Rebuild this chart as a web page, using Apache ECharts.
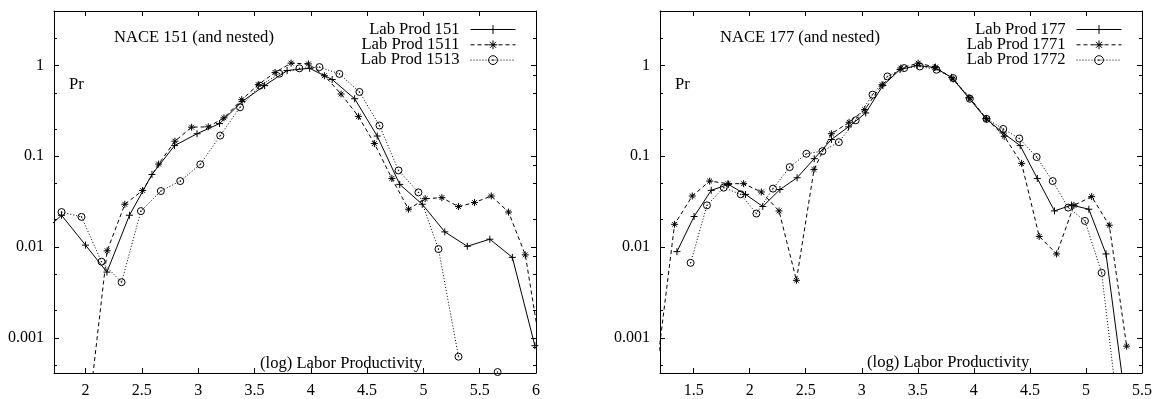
<!DOCTYPE html>
<html>
<head>
<meta charset="utf-8">
<script src="https://cdn.jsdelivr.net/npm/echarts@6/dist/echarts.min.js"></script>
<style>
  html, body { margin: 0; background: #fff; }
  #chart { width: 1156px; height: 399px; }
</style>
</head>
<body>
<div id="chart"></div>
<script>
// NACE 151 panel
const lab151X = [1.59, 1.787, 2.0, 2.19, 2.39, 2.59, 2.79, 2.99, 3.19, 3.39, 3.59, 3.79, 3.99, 4.19, 4.39, 4.59, 4.79, 4.99, 5.19, 5.39, 5.59, 5.79, 5.99];
const lab151Y = [0.0135, 0.0224, 0.0105, 0.0053, 0.0224, 0.063, 0.131, 0.177, 0.229, 0.40, 0.60, 0.88, 0.93, 0.70, 0.43, 0.167, 0.049, 0.0296, 0.0147, 0.0102, 0.0122, 0.0077, 0.00082];
const lab1511X = [2.044, 2.192, 2.349, 2.507, 2.649, 2.794, 2.942, 3.09, 3.229, 3.387, 3.534, 3.683, 3.825, 3.979, 4.121, 4.269, 4.423, 4.565, 4.72, 4.868, 5.016, 5.164, 5.312, 5.454, 5.603, 5.756, 5.905, 6.05];
const lab1511Y = [0.00023, 0.0091, 0.0296, 0.042, 0.082, 0.1465, 0.209, 0.211, 0.265, 0.42, 0.614, 0.838, 1.06, 1.04, 0.771, 0.485, 0.275, 0.138, 0.057, 0.0261, 0.0341, 0.035, 0.0279, 0.0309, 0.0365, 0.0243, 0.0082, 0.00064];
const lab1513X = [1.787, 1.964, 2.142, 2.32, 2.492, 2.669, 2.841, 3.019, 3.196, 3.372, 3.549, 3.721, 3.899, 4.077, 4.254, 4.432, 4.61, 4.779, 4.956, 5.134, 5.312, 5.486, 5.659];
const lab1513Y = [0.0243, 0.0215, 0.0069, 0.0041, 0.0249, 0.0414, 0.0533, 0.0813, 0.169, 0.346, 0.599, 0.811, 0.93, 0.96, 0.807, 0.511, 0.218, 0.0698, 0.04, 0.0095, 0.00062, null, 0.00042];

// NACE 177 panel
const lab177X = [1.351, 1.504, 1.657, 1.81, 1.963, 2.117, 2.27, 2.423, 2.576, 2.729, 2.882, 3.035, 3.188, 3.341, 3.494, 3.648, 3.801, 3.954, 4.107, 4.26, 4.413, 4.566, 4.719, 4.872, 5.026, 5.179, 5.332];
const lab177Y = [0.0089, 0.0217, 0.0421, 0.049, 0.038, 0.028, 0.043, 0.058, 0.094, 0.153, 0.211, 0.30, 0.60, 0.90, 1.0, 0.95, 0.74, 0.44, 0.26, 0.181, 0.131, 0.057, 0.025, 0.029, 0.0261, 0.0084, 0.00031];
const lab1771X = [1.175, 1.33, 1.488, 1.643, 1.806, 1.946, 2.104, 2.262, 2.417, 2.574, 2.729, 2.887, 3.027, 3.181, 3.348, 3.503, 3.658, 3.815, 3.964, 4.113, 4.271, 4.426, 4.583, 4.738, 4.893, 5.051, 5.208, 5.363];
const lab1771Y = [0.0005, 0.0178, 0.0365, 0.0533, 0.0499, 0.0499, 0.0404, 0.025, 0.0043, 0.0716, 0.177, 0.237, 0.327, 0.614, 0.936, 1.06, 0.96, 0.71, 0.44, 0.258, 0.166, 0.0834, 0.0131, 0.0084, 0.0288, 0.0359, 0.0174, 0.00081];
const lab1772X = [1.473, 1.619, 1.768, 1.92, 2.06, 2.208, 2.357, 2.506, 2.649, 2.795, 2.946, 3.096, 3.229, 3.378, 3.518, 3.667, 3.815, 3.964, 4.113, 4.262, 4.405, 4.56, 4.703, 4.842, 4.991, 5.14, 5.29];
const lab1772Y = [0.0067, 0.0288, 0.0451, 0.0381, 0.0234, 0.044, 0.0759, 0.1065, 0.1138, 0.143, 0.249, 0.477, 0.757, 0.936, 0.975, 0.897, 0.727, 0.43, 0.258, 0.2, 0.157, 0.098, 0.0533, 0.0272, 0.0194, 0.0052, 0.00014];

// ticks
const xTicksLeft = [2, 2.5, 3, 3.5, 4, 4.5, 5, 5.5, 6];
const xTicksRight = [1.5, 2, 2.5, 3, 3.5, 4, 4.5, 5, 5.5];
const yMajor = [0.001, 0.01, 0.1, 1];
const yMinor = [0.0005, 0.002, 0.005, 0.02, 0.05, 0.2, 0.5, 2];
const yMinorRight = [0.0005, 0.00079, 0.002, 0.005, 0.0079, 0.02, 0.05, 0.079, 0.2, 0.5, 0.79, 2];

const FONT = 'Liberation Serif';
const PLUS = 'path://M5,0L5,10M0,5L10,5';
const STAR = 'path://M5,0L5,10M0,5L10,5M1.6,1.6L8.4,8.4M8.4,1.6L1.6,8.4';
const RING = 'path://M10,5A5,5 0 1 1 0,5A5,5 0 1 1 10,5ZM5.5,5A0.5,0.5 0 1 1 4.5,5A0.5,0.5 0 1 1 5.5,5Z';

const chart = echarts.init(document.getElementById('chart'));

function xAx(grid, min, max, ticks, pos) {
    const bottom = pos === 'bottom';
    return {
        type: 'value', gridIndex: grid, position: pos, min: min, max: max,
        axisLine: { show: true, onZero: false, lineStyle: { color: '#000', width: 1 } },
        axisTick: { show: true, inside: true, length: 5, customValues: ticks, lineStyle: { color: '#000' } },
        axisLabel: {
            show: bottom, customValues: ticks, margin: 10,
            color: '#000', fontFamily: FONT, fontSize: 16,
            formatter: v => String(v)
        },
        splitLine: { show: false }
    };
}

function yAx(grid, pos, ticks, len, line, labels) {
    return {
        type: 'log', logBase: 10, gridIndex: grid, position: pos, min: 0.00041, max: 3.98,
        axisLine: { show: line, onZero: false, lineStyle: { color: '#000', width: 1 } },
        axisTick: { show: true, inside: true, length: len, customValues: ticks, lineStyle: { color: '#000' } },
        axisLabel: {
            show: labels, customValues: yMajor, margin: 10,
            color: '#000', fontFamily: FONT, fontSize: 16,
            formatter: v => String(+v.toPrecision(3))
        },
        splitLine: { show: false }
    };
}

function line(name, xs, ys, sym, dash, fill, xi, yi) {
    return {
        name: name, type: 'line', xAxisIndex: xi, yAxisIndex: yi,
        data: xs.map((x, i) => [x, ys[i]]),
        symbol: sym, symbolSize: 7, showAllSymbol: true, clip: true,
        lineStyle: { color: '#000', width: 1, type: dash },
        itemStyle: { color: fill, borderColor: '#000', borderWidth: 1 },
        emphasis: { disabled: true }, silent: true
    };
}

function legend(names, right) {
    return {
        data: names, orient: 'vertical', right: right, top: 21, align: 'right',
        itemWidth: 45, itemHeight: 11, itemGap: -1.7, padding: 0, selectedMode: false,
        itemStyle: { borderWidth: 1 },
        lineStyle: { width: 1 },
        textStyle: { color: '#000', fontFamily: FONT, fontSize: 16.6, padding: [0, 6, 0, 0] }
    };
}

function label(x, y, text) {
    return {
        type: 'text', x: x, y: y, silent: true,
        style: { text: text, fill: '#000', font: '16.6px "' + FONT + '"', verticalAlign: 'middle' }
    };
}

const option = {
    animation: false,
    backgroundColor: '#fff',
    grid: [
        { left: 54, top: 11, width: 482, height: 363 },
        { left: 660, top: 11, width: 482, height: 363 }
    ],
    xAxis: [
        xAx(0, 1.72, 6, xTicksLeft, 'bottom'),
        xAx(0, 1.72, 6, xTicksLeft, 'top'),
        xAx(1, 1.2, 5.5, xTicksRight, 'bottom'),
        xAx(1, 1.2, 5.5, xTicksRight, 'top')
    ],
    yAxis: [
        yAx(0, 'left', yMajor, 5, true, true),
        yAx(0, 'right', yMajor, 5, true, false),
        yAx(0, 'left', yMinor, 3, false, false),
        yAx(0, 'right', yMinorRight, 3, false, false),
        yAx(1, 'left', yMajor, 5, true, true),
        yAx(1, 'right', yMajor, 5, true, false),
        yAx(1, 'left', yMinor, 3, false, false),
        yAx(1, 'right', yMinorRight, 3, false, false)
    ],
    legend: [
        legend(['Lab Prod 151', 'Lab Prod 1511', 'Lab Prod 1513'], 640),
        legend(['Lab Prod 177', 'Lab Prod 1771', 'Lab Prod 1772'], 34)
    ],
    graphic: [
        label(114, 37.5, 'NACE 151 (and nested)'),
        label(69, 84.5, 'Pr'),
        label(260, 364, '(log) Labor Productivity'),
        label(720, 37.5, 'NACE 177 (and nested)'),
        label(675, 84.5, 'Pr'),
        label(867, 363, '(log) Labor Productivity')
    ],
    series: [
        line('Lab Prod 151', lab151X, lab151Y, PLUS, 'solid', '#000', 0, 0),
        line('Lab Prod 1511', lab1511X, lab1511Y, STAR, [4, 3], '#000', 0, 0),
        line('Lab Prod 1513', lab1513X, lab1513Y, RING, [1, 2], 'none', 0, 0),
        line('Lab Prod 177', lab177X, lab177Y, PLUS, 'solid', '#000', 2, 4),
        line('Lab Prod 1771', lab1771X, lab1771Y, STAR, [4, 3], '#000', 2, 4),
        line('Lab Prod 1772', lab1772X, lab1772Y, RING, [1, 2], 'none', 2, 4)
    ]
};

chart.setOption(option);
</script>
</body>
</html>
